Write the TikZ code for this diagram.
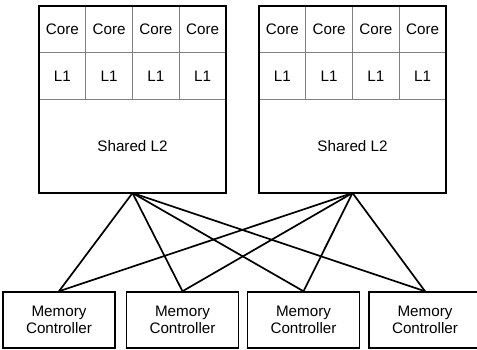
\documentclass[tikz,border=0pt]{standalone}
\usepackage{fontspec}
\setmainfont{Liberation Sans}
\usetikzlibrary{positioning}

\begin{document}
\begin{tikzpicture}[x=1pt,y=-1pt,line width=1.7pt,
                    every node/.style={font=\fontsize{15.2}{17}\selectfont},
                    cell/.style={draw=gray,line width=1pt,outer sep=0pt,inner sep=0pt,
                                 minimum width=46.75pt,minimum height=46.75pt},
                    chip/.style={outer sep=0pt,inner sep=0pt,minimum width=187pt,minimum height=187pt},
                    outline/.style={draw=black,line width=1.8pt},
                    mem node/.style={draw,line width=1.5pt,minimum width=112pt,minimum height=56pt,
                                     align=center,inner sep=2pt}]

  \useasboundingbox (0,0) rectangle (477,350);

  % left chip
  \node[chip] (chipA) at (132.5,99.5) {};
  \node[cell, anchor=north west] (a1) at (chipA.north west) {Core};
  \node[cell] (a2) [right=0pt of a1] {Core};
  \node[cell] (a3) [right=0pt of a2] {Core};
  \node[cell] (a4) [right=0pt of a3] {Core};
  \node[cell] (a5) [below=0pt of a1] {L1};
  \node[cell] (a6) [right=0pt of a5] {L1};
  \node[cell] (a7) [right=0pt of a6] {L1};
  \node[cell] (a8) [right=0pt of a7] {L1};
  \node (l2A) at ([yshift=47pt]chipA.south) {Shared L2};
  \draw[outline] (chipA.north west) rectangle (chipA.south east);

  % right chip
  \node[chip] (chipB) at (352.5,99.5) {};
  \node[cell, anchor=north west] (b1) at (chipB.north west) {Core};
  \node[cell] (b2) [right=0pt of b1] {Core};
  \node[cell] (b3) [right=0pt of b2] {Core};
  \node[cell] (b4) [right=0pt of b3] {Core};
  \node[cell] (b5) [below=0pt of b1] {L1};
  \node[cell] (b6) [right=0pt of b5] {L1};
  \node[cell] (b7) [right=0pt of b6] {L1};
  \node[cell] (b8) [right=0pt of b7] {L1};
  \node (l2B) at ([yshift=47pt]chipB.south) {Shared L2};
  \draw[outline] (chipB.north west) rectangle (chipB.south east);

  % memory controllers
  \node[mem node] (m1) at (59,320) {Memory\\Controller};
  \node[mem node] (m2) at (182.5,320) {Memory\\Controller};
  \node[mem node] (m3) at (303.5,320) {Memory\\Controller};
  \node[mem node] (m4) at (425,320) {Memory\\Controller};

   \path
     (chipA.south) edge (m1.north)
                   edge (m2.north)
                   edge (m3.north)
                   edge (m4.north)
     (chipB.south) edge (m1.north)
                   edge (m2.north)
                   edge (m3.north)
                   edge (m4.north);
\end{tikzpicture}
\end{document}
